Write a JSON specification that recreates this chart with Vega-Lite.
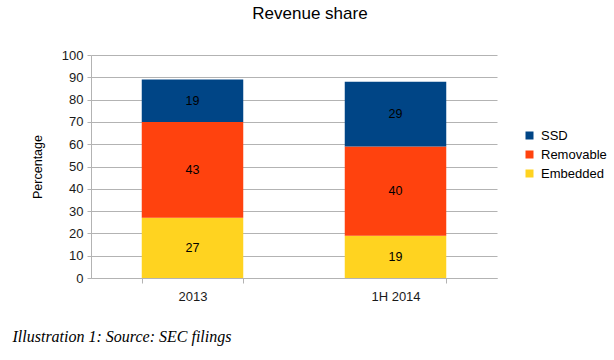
{
  "$schema": "https://vega.github.io/schema/vega-lite/v6.json",
  "autosize": "none",
  "width": 406,
  "height": 223,
  "padding": {"left": 91, "top": 55, "right": 117, "bottom": 82},
  "background": "white",
  "config": {
    "font": "Liberation Sans",
    "view": {"stroke": null},
    "axisY": {
      "labelOverlap": false,
      "labelFontSize": 13,
      "labelColor": "#1a1a1a",
      "labelPadding": 4,
      "gridColor": "#b3b3b3",
      "domainColor": "#b3b3b3",
      "tickColor": "#b3b3b3",
      "tickSize": 4,
      "titleFontSize": 12.5,
      "titleFontWeight": "normal",
      "titleColor": "#000000",
      "titlePadding": 17
    }
  },
  "title": {
    "text": "Revenue share",
    "fontSize": 17,
    "fontWeight": "normal",
    "font": "Liberation Sans",
    "color": "#000000",
    "anchor": "middle",
    "dx": 16,
    "offset": 26
  },
  "data": {
    "values": [
      {"period": "2013", "segment": "Embedded", "value": 27, "rank": 1},
      {"period": "2013", "segment": "Removable", "value": 43, "rank": 2},
      {"period": "2013", "segment": "SSD", "value": 19, "rank": 3},
      {"period": "1H 2014", "segment": "Embedded", "value": 19, "rank": 1},
      {"period": "1H 2014", "segment": "Removable", "value": 40, "rank": 2},
      {"period": "1H 2014", "segment": "SSD", "value": 29, "rank": 3}
    ]
  },
  "transform": [
    {"stack": "value", "groupby": ["period"], "sort": [{"field": "rank", "order": "ascending"}], "as": ["v0", "v1"]},
    {"calculate": "(datum.v0 + datum.v1) / 2", "as": "mid"}
  ],
  "encoding": {
    "x": {
      "field": "period",
      "type": "nominal",
      "sort": ["2013", "1H 2014"],
      "scale": {"paddingInner": 0.5, "paddingOuter": 0.25},
      "axis": {
        "labelAngle": 0,
        "labelFontSize": 13,
        "labelColor": "#1a1a1a",
        "labelPadding": 7,
        "domainColor": "#b3b3b3",
        "tickColor": "#b3b3b3",
        "tickBand": "extent",
        "tickSize": 5,
        "title": "Illustration 1: Source: SEC filings",
        "titleFont": "Liberation Serif",
        "titleFontStyle": "italic",
        "titleFontWeight": "normal",
        "titleFontSize": 16,
        "titleColor": "#000000",
        "titleAnchor": "start",
        "titleAlign": "left",
        "titleBaseline": "alphabetic",
        "titleX": -79,
        "titleY": 63
      }
    }
  },
  "layer": [
    {
      "mark": {"type": "bar"},
      "encoding": {
        "y": {
          "field": "v1",
          "type": "quantitative",
          "scale": {"domain": [0, 100], "nice": false},
          "axis": {"title": "Percentage", "values": [0, 10, 20, 30, 40, 50, 60, 70, 80, 90, 100], "tickCount": 11, "labelOverlap": false}
        },
        "y2": {"field": "v0"},
        "color": {
          "field": "segment",
          "type": "nominal",
          "scale": {
            "domain": ["SSD", "Removable", "Embedded"],
            "range": ["#004586", "#ff420e", "#ffd320"]
          },
          "legend": {
            "title": null,
            "orient": "none",
            "legendX": 432,
            "legendY": 74,
            "symbolType": "square",
            "symbolSize": 64,
            "symbolStrokeWidth": 0,
            "labelFontSize": 13,
            "labelColor": "#000000",
            "rowPadding": 5,
            "labelOffset": 5
          }
        }
      }
    },
    {
      "mark": {"type": "text", "fontSize": 12.5, "color": "#000000", "baseline": "middle"},
      "encoding": {
        "y": {"field": "mid", "type": "quantitative", "axis": {"title": "Percentage", "values": [0, 10, 20, 30, 40, 50, 60, 70, 80, 90, 100], "tickCount": 11, "labelOverlap": false}},
        "text": {"field": "value", "type": "quantitative"}
      }
    }
  ]
}
